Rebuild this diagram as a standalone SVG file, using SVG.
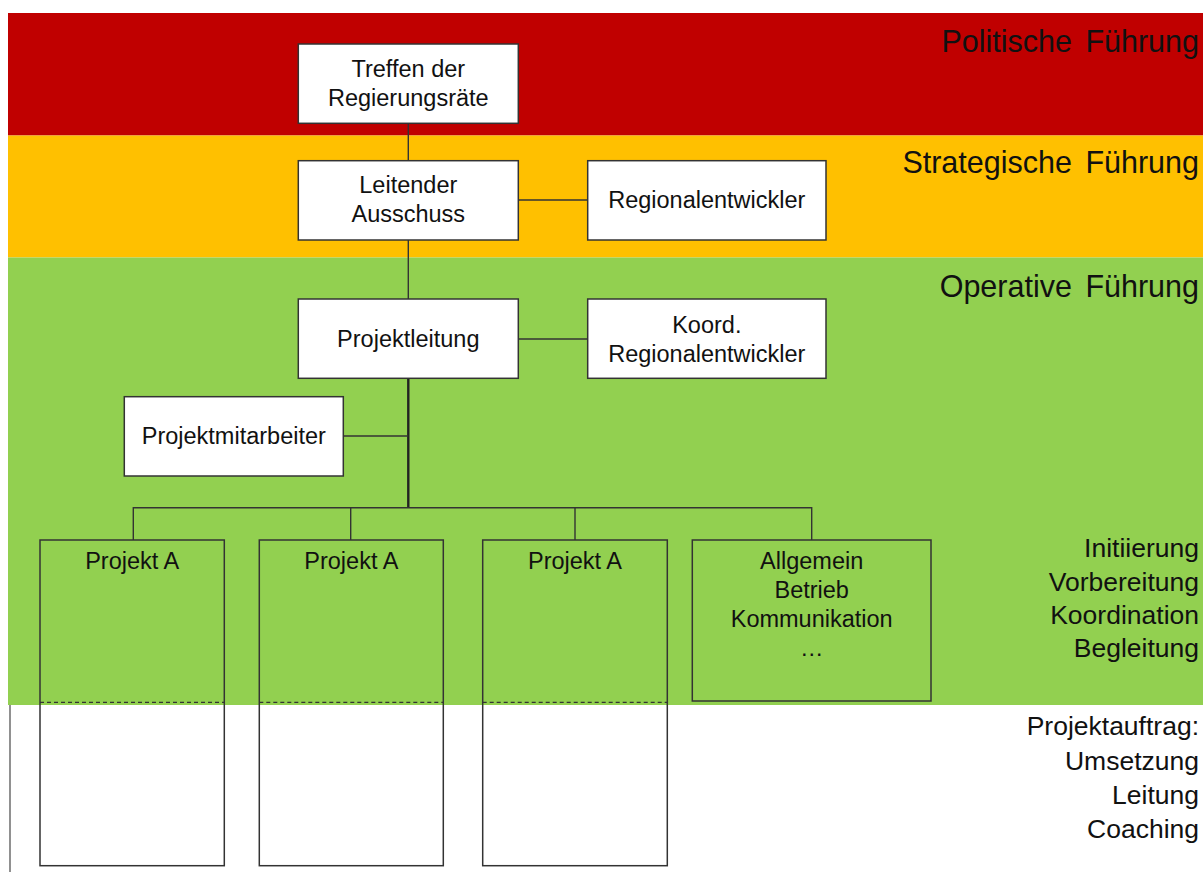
<svg xmlns="http://www.w3.org/2000/svg" width="1203" height="872" viewBox="0 0 1203 872">
<style>
.box{fill:#ffffff;stroke:#333333;stroke-width:1.5}
.pbox{fill:none;stroke:#333333;stroke-width:1.5}
.t{font-family:"Liberation Sans",Arial,sans-serif;font-size:23.5px;fill:#111111;text-anchor:middle}
.h{font-family:"Liberation Sans",Arial,sans-serif;font-size:30.5px;fill:#111111;text-anchor:end;word-spacing:5px}
.l{font-family:"Liberation Sans",Arial,sans-serif;font-size:26.5px;fill:#111111;text-anchor:end}
.c{fill:none;stroke:#333333;stroke-width:1.4}
</style>
<rect width="1203" height="872" fill="#ffffff"/>
<g id="bands">
<rect x="8" y="13" width="1195" height="122.5" fill="#C00000"/>
<rect x="8" y="135.5" width="1195" height="122" fill="#FFC000"/>
<rect x="8" y="257.5" width="1195" height="447.5" fill="#92D050"/>
<line x1="10" y1="705" x2="10" y2="872" stroke="#555555" stroke-width="1.3"/>
</g>
<g id="band-labels">
<text class="h" x="1199" y="52">Politische Führung</text>
<text class="h" x="1199" y="173">Strategische Führung</text>
<text class="h" x="1199" y="297">Operative Führung</text>
<text class="l" x="1199" y="557">Initiierung</text>
<text class="l" x="1199" y="591">Vorbereitung</text>
<text class="l" x="1199" y="624">Koordination</text>
<text class="l" x="1199" y="657">Begleitung</text>
<text class="l" x="1199" y="735">Projektauftrag:</text>
<text class="l" x="1199" y="770">Umsetzung</text>
<text class="l" x="1199" y="804">Leitung</text>
<text class="l" x="1199" y="838">Coaching</text>
</g>
<g id="connectors">
<line class="c" x1="408.3" y1="123.3" x2="408.3" y2="160.7"/>
<line class="c" x1="408.3" y1="240" x2="408.3" y2="299"/>
<line class="c" x1="518.3" y1="200" x2="587.7" y2="200"/>
<line class="c" x1="518.3" y1="339" x2="587.7" y2="339"/>
<line x1="408.3" y1="378.3" x2="408.3" y2="508" stroke="#222222" stroke-width="2.4"/>
<line class="c" x1="343.3" y1="436" x2="408.3" y2="436"/>
<polyline class="c" points="133.3,540 133.3,507.7 811.7,507.7 811.7,540"/>
<line class="c" x1="350.7" y1="507.7" x2="350.7" y2="540"/>
<line class="c" x1="575" y1="507.7" x2="575" y2="540"/>
</g>
<g id="treffen">
<rect class="box" x="298.3" y="44" width="220" height="79.3"/>
<text class="t" x="408.3" y="77">Treffen der</text>
<text class="t" x="408.3" y="106">Regierungsräte</text>
</g>
<g id="leitender-ausschuss">
<rect class="box" x="298.3" y="160.7" width="220" height="79.3"/>
<text class="t" x="408.3" y="193">Leitender</text>
<text class="t" x="408.3" y="222">Ausschuss</text>
</g>
<g id="regionalentwickler">
<rect class="box" x="587.7" y="160.7" width="238.3" height="79.3"/>
<text class="t" x="706.8" y="208">Regionalentwickler</text>
</g>
<g id="projektleitung">
<rect class="box" x="298.3" y="299" width="220" height="79.3"/>
<text class="t" x="408.3" y="347">Projektleitung</text>
</g>
<g id="koord-regionalentwickler">
<rect class="box" x="587.7" y="299" width="238.3" height="79.3"/>
<text class="t" x="706.8" y="333">Koord.</text>
<text class="t" x="706.8" y="362">Regionalentwickler</text>
</g>
<g id="projektmitarbeiter">
<rect class="box" x="124.3" y="396.7" width="219" height="79.3"/>
<text class="t" x="233.8" y="444">Projektmitarbeiter</text>
</g>
<g id="projekt-a-1">
<rect class="pbox" x="40" y="540" width="184.3" height="325.7"/>
<line x1="40" y1="702.3" x2="224.3" y2="702.3" stroke="#333333" stroke-width="1.3" stroke-dasharray="4,3"/>
<text class="t" x="132.2" y="569">Projekt A</text>
</g>
<g id="projekt-a-2">
<rect class="pbox" x="259.3" y="540" width="184" height="325.7"/>
<line x1="259.3" y1="702.3" x2="443.3" y2="702.3" stroke="#333333" stroke-width="1.3" stroke-dasharray="4,3"/>
<text class="t" x="351.3" y="569">Projekt A</text>
</g>
<g id="projekt-a-3">
<rect class="pbox" x="482.7" y="540" width="184.6" height="325.7"/>
<line x1="482.7" y1="702.3" x2="667.3" y2="702.3" stroke="#333333" stroke-width="1.3" stroke-dasharray="4,3"/>
<text class="t" x="575" y="569">Projekt A</text>
</g>
<g id="allgemein">
<rect class="pbox" x="692.3" y="540" width="238.7" height="161"/>
<text class="t" x="811.7" y="569">Allgemein</text>
<text class="t" x="811.7" y="598">Betrieb</text>
<text class="t" x="811.7" y="627">Kommunikation</text>
<text class="t" x="811.7" y="656">…</text>
</g>
</svg>
